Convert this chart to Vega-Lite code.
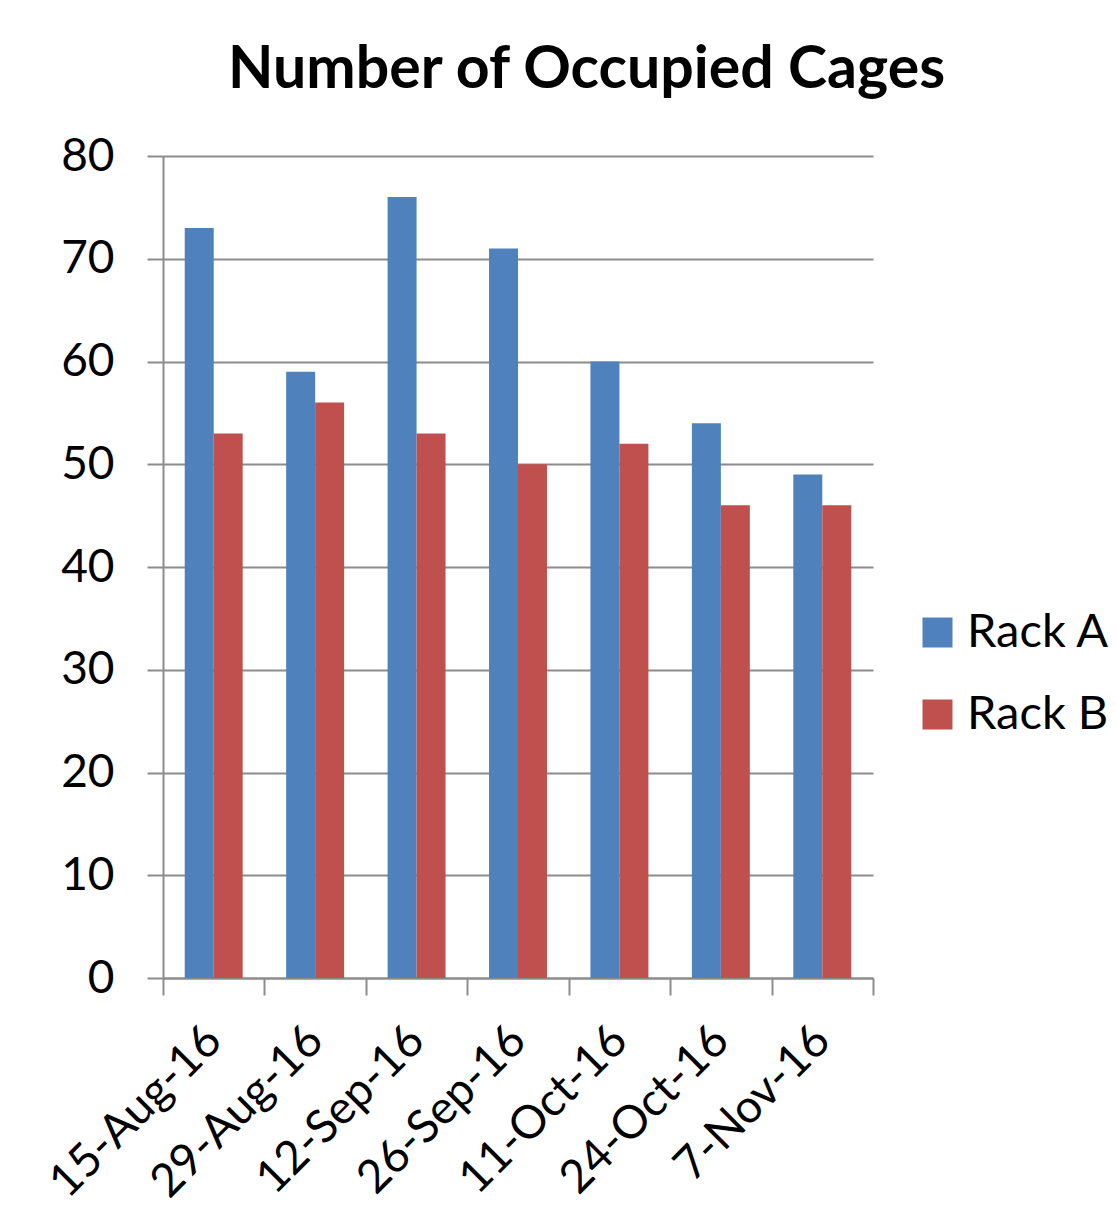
{
  "$schema": "https://vega.github.io/schema/vega-lite/v6.json",
  "width": 710,
  "height": 822,
  "autosize": "none",
  "padding": {"left": 163, "top": 156, "right": 243, "bottom": 232},
  "title": {
    "text": "Number of Occupied Cages",
    "font": "Lato",
    "fontSize": 59,
    "fontWeight": "bold",
    "color": "#000000",
    "anchor": "middle",
    "frame": "bounds",
    "baseline": "alphabetic",
    "offset": -14,
    "dx": 11
  },
  "data": {
    "values": [
      {"date": "15-Aug-16", "rack": "Rack A", "count": 73},
      {"date": "15-Aug-16", "rack": "Rack B", "count": 53},
      {"date": "29-Aug-16", "rack": "Rack A", "count": 59},
      {"date": "29-Aug-16", "rack": "Rack B", "count": 56},
      {"date": "12-Sep-16", "rack": "Rack A", "count": 76},
      {"date": "12-Sep-16", "rack": "Rack B", "count": 53},
      {"date": "26-Sep-16", "rack": "Rack A", "count": 71},
      {"date": "26-Sep-16", "rack": "Rack B", "count": 50},
      {"date": "11-Oct-16", "rack": "Rack A", "count": 60},
      {"date": "11-Oct-16", "rack": "Rack B", "count": 52},
      {"date": "24-Oct-16", "rack": "Rack A", "count": 54},
      {"date": "24-Oct-16", "rack": "Rack B", "count": 46},
      {"date": "7-Nov-16", "rack": "Rack A", "count": 49},
      {"date": "7-Nov-16", "rack": "Rack B", "count": 46}
    ]
  },
  "mark": {"type": "bar"},
  "encoding": {
    "x": {
      "field": "date",
      "type": "nominal",
      "sort": null,
      "scale": {"paddingInner": 0, "paddingOuter": 0},
      "axis": {
        "title": null,
        "grid": false,
        "tickBand": "extent",
        "tickSize": 17,
        "tickWidth": 2,
        "tickColor": "#8c8c8c",
        "domainColor": "#8c8c8c",
        "domainWidth": 2,
        "labelAngle": -45,
        "labelAlign": "right",
        "labelBaseline": "middle",
        "labelFont": "Lato",
        "labelFontSize": 46,
        "labelColor": "#000000",
        "labelPadding": 38,
        "labelLimit": 0,
        "labelOverlap": false
      }
    },
    "xOffset": {
      "field": "rack",
      "type": "nominal",
      "scale": {"paddingInner": 0, "paddingOuter": 0.75}
    },
    "y": {
      "field": "count",
      "type": "quantitative",
      "scale": {"domain": [0, 80], "nice": false},
      "axis": {
        "title": null,
        "values": [0, 10, 20, 30, 40, 50, 60, 70, 80],
        "grid": true,
        "gridColor": "#8c8c8c",
        "gridWidth": 2,
        "tickSize": 16,
        "tickWidth": 2,
        "tickColor": "#8c8c8c",
        "domainColor": "#8c8c8c",
        "domainWidth": 2,
        "labelFont": "Lato",
        "labelFontSize": 46,
        "labelColor": "#000000",
        "labelPadding": 33
      }
    },
    "color": {
      "field": "rack",
      "type": "nominal",
      "scale": {"range": ["#4F81BD", "#C0504D"]},
      "legend": {
        "title": null,
        "orient": "none",
        "legendX": 751,
        "legendY": 453,
        "symbolType": "square",
        "symbolSize": 900,
        "symbolStrokeWidth": 0,
        "labelFont": "Lato",
        "labelFontSize": 47,
        "labelColor": "#000000",
        "labelOffset": 6,
        "rowPadding": 34,
        "labelLimit": 0
      }
    }
  },
  "config": {"view": {"stroke": null}}
}
